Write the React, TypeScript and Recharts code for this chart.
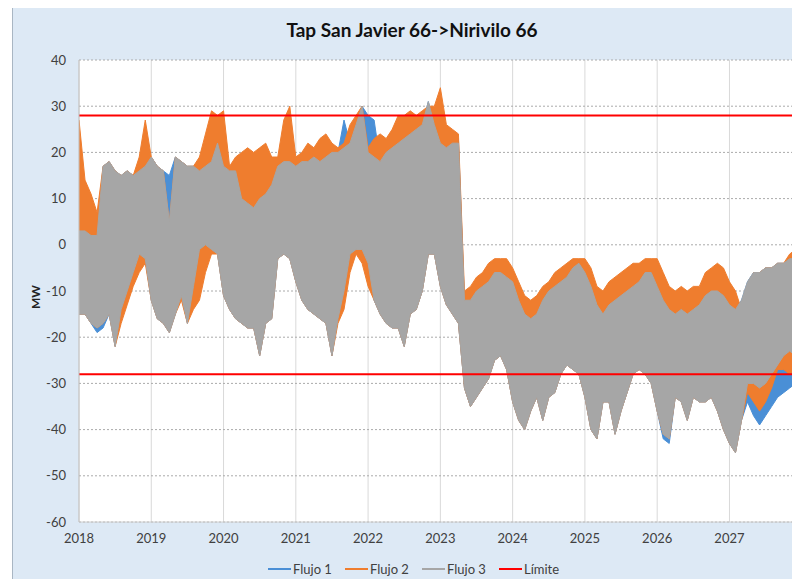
import React from 'react';
import {
  ComposedChart, Area, XAxis, YAxis, CartesianGrid, ReferenceLine,
} from 'recharts';

// monthly envelopes (low / high), Jan 2018 .. Jan 2028
const flujo3Hi = [
  3, 3, 2, 2, 17, 18, 16, 15, 16, 15, 16, 17, // 2018
  19, 17, 16, 5, 19, 18, 17, 17, 16, 17, 18, 22, // 2019
  17, 16, 16, 10, 9, 8, 10, 11, 13, 17, 18, 18, // 2020
  17, 18, 18, 19, 18, 19, 20, 20, 21, 22, 26, 30, // 2021
  20, 19, 18, 20, 21, 22, 23, 24, 25, 26, 31, 26, // 2022
  22, 21, 22, 22, -12, -12, -10, -9, -8, -6, -6, -7, // 2023
  -8, -12, -15, -16, -15, -12, -10, -9, -8, -7, -5, -4, // 2024
  -6, -9, -13, -15, -13, -12, -11, -10, -9, -8, -6, -6, // 2025
  -9, -12, -14, -15, -14, -15, -14, -13, -11, -10, -10, -11, // 2026
  -13, -14, -12, -8, -6, -6, -5, -5, -4, -4, -3, -3, // 2027
  -3,
];
const flujo3Lo = [
  -15, -15, -17, -18, -17, -15, -22, -14, -10, -6, -2, -3,
  -12, -16, -17, -19, -15, -11, -17, -9, -1, 0, -1, -2,
  -11, -14, -16, -17, -18, -18, -24, -17, -16, -3, -2, -3,
  -8, -12, -14, -15, -16, -17, -24, -16, -10, -2, -1, -1,
  -4, -12, -15, -17, -18, -18, -22, -15, -14, -10, -2, -2,
  -9, -13, -15, -17, -31, -35, -33, -31, -29, -25, -24, -27,
  -34, -38, -40, -36, -33, -38, -33, -32, -28, -26, -27, -28,
  -33, -40, -42, -34, -34, -41, -36, -32, -28, -27, -28, -30,
  -36, -41, -42, -33, -34, -38, -33, -34, -34, -33, -36, -40,
  -43, -45, -38, -30, -30, -31, -30, -28, -26, -24, -23, -24,
  -24,
];
const flujo2Hi = [
  27, 14, 11, 7, 17, 18, 16, 15, 16, 15, 19, 27,
  19, 17, 16, 5, 19, 18, 17, 17, 19, 24, 29, 28,
  29, 17, 19, 20, 21, 20, 21, 22, 19, 19, 27, 30,
  19, 20, 22, 21, 23, 24, 22, 21, 22, 26, 28, 30,
  21, 23, 24, 23, 25, 28, 28, 29, 28, 29, 30, 30,
  34, 26, 25, 24, -10, -9, -7, -6, -4, -3, -3, -3,
  -5, -8, -11, -12, -11, -9, -8, -6, -5, -4, -3, -3,
  -3, -5, -9, -10, -8, -7, -6, -5, -4, -4, -3, -3,
  -3, -6, -9, -10, -9, -10, -9, -9, -6, -5, -4, -5,
  -8, -10, -14, -13, -6, -6, -5, -5, -4, -4, -2, -1,
  -2,
];
const flujo2Lo = [
  -15, -15, -17, -18, -17, -15, -22, -17, -13, -9, -6, -4,
  -12, -16, -17, -19, -15, -12, -17, -14, -12, -6, -2, -2,
  -11, -14, -16, -17, -18, -18, -24, -17, -16, -3, -2, -3,
  -8, -12, -14, -15, -16, -17, -24, -17, -14, -6, -2, -4,
  -9, -12, -15, -17, -18, -18, -22, -15, -14, -10, -2, -2,
  -9, -13, -15, -17, -31, -35, -33, -31, -29, -25, -24, -27,
  -34, -38, -40, -36, -33, -38, -33, -32, -28, -26, -27, -28,
  -33, -40, -42, -34, -34, -41, -36, -32, -28, -27, -28, -30,
  -36, -41, -42, -33, -34, -38, -33, -34, -34, -33, -36, -40,
  -43, -45, -38, -32, -34, -36, -34, -31, -27, -27, -28, -27,
  -27,
];
const flujo1Hi = [
  3, 3, 2, 2, 17, 18, 16, 15, 16, 15, 16, 17,
  19, 17, 16, 15, 19, 18, 17, 17, 16, 17, 18, 22,
  17, 17, 16, 10, 9, 8, 10, 11, 13, 17, 18, 18,
  17, 18, 18, 19, 21, 19, 20, 20, 27, 22, 26, 30,
  28, 27, 18, 20, 21, 22, 23, 24, 25, 26, 31, 26,
  22, 21, 22, 23, -12, -12, -10, -9, -8, -6, -6, -7,
  -8, -12, -15, -16, -15, -12, -10, -9, -8, -7, -5, -4,
  -6, -9, -13, -15, -13, -12, -11, -10, -9, -8, -6, -6,
  -9, -12, -14, -15, -14, -15, -14, -13, -11, -10, -10, -11,
  -13, -14, -12, -8, -6, -6, -5, -5, -4, -4, -3, -3,
  -3,
];
const flujo1Lo = [
  -15, -15, -17, -19, -18, -15, -22, -14, -10, -6, -2, -3,
  -12, -16, -17, -19, -15, -11, -17, -9, -1, 0, -1, -2,
  -11, -14, -16, -17, -18, -18, -24, -17, -16, -3, -2, -3,
  -8, -12, -14, -15, -16, -17, -24, -16, -10, -2, -1, -1,
  -4, -12, -15, -17, -18, -18, -22, -15, -14, -10, -2, -2,
  -9, -13, -15, -17, -31, -35, -33, -31, -29, -25, -24, -27,
  -34, -38, -40, -36, -33, -38, -33, -32, -28, -26, -27, -28,
  -33, -40, -42, -34, -34, -41, -36, -32, -28, -27, -28, -30,
  -36, -42, -43, -33, -34, -38, -33, -34, -34, -33, -36, -40,
  -43, -45, -38, -34, -37, -39, -37, -35, -33, -32, -31, -30,
  -30,
];

const years = [2018, 2019, 2020, 2021, 2022, 2023, 2024, 2025, 2026, 2027];
const yTicks = [-60, -50, -40, -30, -20, -10, 0, 10, 20, 30, 40];
const limits = [28, -28];

const series = [
  { key: 'f1', name: 'Flujo 1', color: '#4a8fd6' },
  { key: 'f2', name: 'Flujo 2', color: '#ef7d2e' },
  { key: 'f3', name: 'Flujo 3', color: '#a6a6a6' },
];
const limitColor = '#ff0000';

const data = flujo3Hi.map((_, i) => ({
  t: 2018 + i / 12,
  f1: [flujo1Lo[i], flujo1Hi[i]],
  f2: [flujo2Lo[i], flujo2Hi[i]],
  f3: [flujo3Lo[i], flujo3Hi[i]],
}));

const font = 'Lato, "Open Sans", sans-serif';

const legendItems = [
  { ...series[0], left: 268 },
  { ...series[1], left: 345 },
  { ...series[2], left: 422 },
  { key: 'lim', name: 'Límite', color: limitColor, left: 499 },
];

export default function App() {
  return (
    <div style={{ position: 'relative', margin: -8, width: 800, height: 587, overflow: 'hidden', background: '#fff', fontFamily: font }}>
      <div style={{
        position: 'absolute', left: 12, top: 6, width: 900, height: 700,
        background: '#dde9f5', borderLeft: '1px solid #a9b6c3', borderTop: '1px solid #a9b6c3',
      }} />
      <div style={{ position: 'absolute', left: 0, width: 824, top: 18, textAlign: 'center', fontWeight: 700, fontSize: 19, color: '#111' }}>
        Tap San Javier 66-&gt;Nirivilo 66
      </div>
      <div style={{
        position: 'absolute', left: 35, top: 297, transform: 'translate(-50%, -50%) rotate(-90deg)',
        fontSize: 12, fontWeight: 700, color: '#222',
      }}>MW</div>
      <div style={{ position: 'absolute', left: 0, top: 0 }}>
        <ComposedChart width={900} height={587} data={data} margin={{ top: 60, right: 26, bottom: 35, left: 0 }}>
          <CartesianGrid horizontal={false} stroke="#d9d9d9" fill="#ffffff" verticalValues={years} />
          <CartesianGrid vertical={false} stroke="#aaaaaa" strokeDasharray="2 2" horizontalValues={yTicks} />
          <XAxis
            type="number" dataKey="t" domain={[2018, 2029]} ticks={years} allowDataOverflow
            tick={{ fontSize: 13, fill: '#404040', fontFamily: font }} tickLine={false}
            tickSize={6} tickMargin={6} axisLine={{ stroke: '#d0d0d0' }} height={30}
          />
          <YAxis
            type="number" domain={[-60, 40]} ticks={yTicks} width={79}
            tick={{ fontSize: 13, fill: '#404040', fontFamily: font }} tickLine={false}
            tickSize={6} tickMargin={7} axisLine={{ stroke: '#c0c0c0' }}
          />
          {series.map((s) => (
            <Area
              key={s.key} type="linear" dataKey={s.key} name={s.name}
              stroke={s.color} strokeWidth={1} fill={s.color} fillOpacity={1}
              dot={false} activeDot={false} isAnimationActive={false}
            />
          ))}
          {limits.map((v) => (
            <ReferenceLine key={v} y={v} stroke={limitColor} strokeWidth={2} />
          ))}
        </ComposedChart>
      </div>
      {legendItems.map((it) => (
        <div key={it.key} style={{ position: 'absolute', left: it.left, top: 561, display: 'flex', alignItems: 'center', fontSize: 13, color: '#404040' }}>
          <span style={{ display: 'inline-block', width: 23, height: 2, background: it.color, marginRight: 2 }} />
          {it.name}
        </div>
      ))}
    </div>
  );
}
